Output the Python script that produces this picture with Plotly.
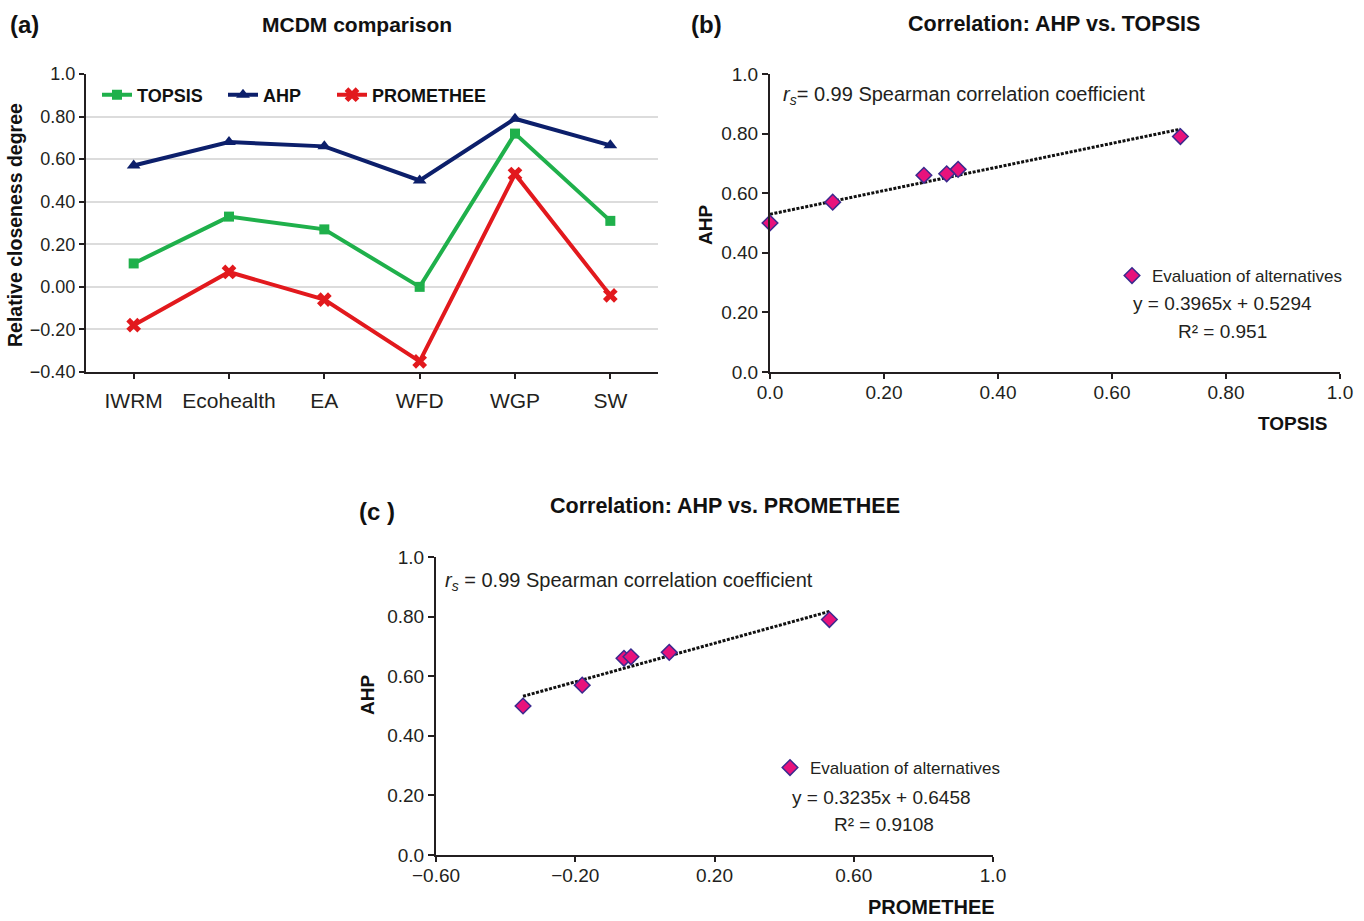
import plotly.graph_objects as go

# ---------------- data ----------------
alternatives = ["IWRM", "Ecohealth", "EA", "WFD", "WGP", "SW"]
topsis = [0.11, 0.33, 0.27, 0.00, 0.72, 0.31]
ahp = [0.57, 0.68, 0.66, 0.50, 0.79, 0.665]
promethee = [-0.18, 0.07, -0.06, -0.35, 0.53, -0.04]

# trend lines (Excel linear fits shown on the chart)
fit_b = {"slope": 0.3965, "intercept": 0.5294}
fit_c = {"slope": 0.3235, "intercept": 0.6458}

a_yticks = [1.0, 0.8, 0.6, 0.4, 0.2, 0.0, -0.2, -0.4]
a_yticktext = ["1.0", "0.80", "0.60", "0.40", "0.20", "0.00", "\u22120.20", "\u22120.40"]
b_ticks = [0.0, 0.2, 0.4, 0.6, 0.8, 1.0]
b_ticktext = ["0.0", "0.20", "0.40", "0.60", "0.80", "1.0"]
c_xticks = [-0.6, -0.2, 0.2, 0.6, 1.0]
c_xticktext = ["\u22120.60", "\u22120.20", "0.20", "0.60", "1.0"]

# ---------------- style ----------------
W, H = 1364, 921
FONT = "Liberation Sans, Arial, sans-serif"
INK = "#231f20"
GREEN = "#1fb04b"
NAVY = "#0c1f6b"
RED = "#e2191d"
PINK = "#e8127c"
PURPLE = "#3b2a8e"
TREND_DASH = "3px,1.5px"


def px(x):
    return x / W


def py(y):
    return 1 - y / H


fig = go.Figure()

# ---- panel (a) ----
fig.add_trace(go.Scatter(x=alternatives, y=topsis, name="TOPSIS", mode="lines+markers",
                         line=dict(color=GREEN, width=4),
                         marker=dict(symbol="square", size=10, color=GREEN),
                         xaxis="x", yaxis="y", legend="legend", cliponaxis=False))
fig.add_trace(go.Scatter(x=alternatives, y=ahp, name="AHP", mode="lines+markers",
                         line=dict(color=NAVY, width=4),
                         marker=dict(symbol="triangle-up", size=12, color=NAVY),
                         xaxis="x", yaxis="y", legend="legend4", cliponaxis=False))
fig.add_trace(go.Scatter(x=alternatives, y=promethee, name="PROMETHEE", mode="lines+markers",
                         line=dict(color=RED, width=4),
                         marker=dict(symbol="x", size=13, color=RED),
                         xaxis="x", yaxis="y", legend="legend5", cliponaxis=False))

# ---- panel (b) ----
xb = [0.0, max(topsis)]
fig.add_trace(go.Scatter(x=xb, y=[fit_b["slope"] * v + fit_b["intercept"] for v in xb],
                         mode="lines", line=dict(color="#111111", width=3, dash=TREND_DASH),
                         showlegend=False, xaxis="x2", yaxis="y2", hoverinfo="skip"))
fig.add_trace(go.Scatter(x=topsis, y=ahp, mode="markers", name="Evaluation of alternatives",
                         marker=dict(symbol="diamond", size=12, color=PINK,
                                     line=dict(color=PURPLE, width=1.5)),
                         xaxis="x2", yaxis="y2", legend="legend2", cliponaxis=False))

# ---- panel (c) ----
xc = [min(promethee), max(promethee)]
fig.add_trace(go.Scatter(x=xc, y=[fit_c["slope"] * v + fit_c["intercept"] for v in xc],
                         mode="lines", line=dict(color="#111111", width=3, dash=TREND_DASH),
                         showlegend=False, xaxis="x3", yaxis="y3", hoverinfo="skip"))
fig.add_trace(go.Scatter(x=promethee, y=ahp, mode="markers", name="Evaluation of alternatives",
                         marker=dict(symbol="diamond", size=12, color=PINK,
                                     line=dict(color=PURPLE, width=1.5)),
                         xaxis="x3", yaxis="y3", legend="legend3", cliponaxis=False))


def axis(**kw):
    d = dict(showline=True, linecolor=INK, linewidth=2, ticks="outside",
             tickcolor=INK, tickwidth=2, zeroline=False, automargin=False,
             showgrid=False, tickfont=dict(family=FONT, size=19, color=INK))
    d.update(kw)
    return d


def legend(x, y, size=17, bold=False):
    return dict(x=px(x), y=py(y), xanchor="left", yanchor="middle",
                font=dict(family=FONT, size=size, color="#111111" if bold else INK,
                          weight="bold" if bold else "normal"),
                bgcolor="rgba(0,0,0,0)", borderwidth=0, itemwidth=30)


fig.update_layout(
    template="none",
    width=W, height=H, autosize=False,
    margin=dict(l=0, r=0, t=0, b=0, pad=0, autoexpand=False),
    paper_bgcolor="white", plot_bgcolor="white",
    font=dict(family=FONT, color=INK),
    xaxis=axis(domain=[px(86), px(658)], anchor="y", type="category",
               range=[-0.5, 5.5], ticklen=5, ticklabelstandoff=4,
               tickfont=dict(family=FONT, size=21, color=INK)),
    yaxis=axis(domain=[py(372), py(74)], anchor="x", range=[-0.4, 1.0],
               tickvals=a_yticks, ticktext=a_yticktext, ticklen=5,
               showgrid=True, gridcolor="#dcdcdc", gridwidth=2,
               tickfont=dict(family=FONT, size=18, color=INK)),
    xaxis2=axis(domain=[px(770), px(1340)], anchor="y2", range=[0, 1],
                tickvals=b_ticks, ticktext=b_ticktext, ticklen=5, ticklabelstandoff=-3),
    yaxis2=axis(domain=[py(372), py(74)], anchor="x2", range=[0, 1],
                tickvals=b_ticks, ticktext=b_ticktext, ticklen=6),
    xaxis3=axis(domain=[px(436), px(993)], anchor="y3", range=[-0.6, 1.0],
                tickvals=c_xticks, ticktext=c_xticktext, ticklen=5, ticklabelstandoff=-3),
    yaxis3=axis(domain=[py(855), py(557)], anchor="x3", range=[0, 1],
                tickvals=b_ticks, ticktext=b_ticktext, ticklen=6),
    legend=legend(97, 95, size=18, bold=True),
    legend4=legend(223, 95, size=18, bold=True),
    legend5=legend(332, 95, size=18, bold=True),
    legend2=legend(1112, 276),
    legend3=legend(770, 768),
    showlegend=True,
)


def ann(text, x, y, size=19, bold=False, xanchor="center", angle=0):
    fig.add_annotation(text=text, x=px(x), y=py(y), xref="paper", yref="paper",
                       showarrow=False, xanchor=xanchor, yanchor="middle",
                       textangle=angle,
                       font=dict(family=FONT, size=size, color="#111111" if bold else INK,
                                 weight="bold" if bold else "normal"))


# panel labels and titles
ann("(a)", 8, 24, size=24, bold=True, xanchor="left")
ann("MCDM comparison", 357, 24, size=21, bold=True)
ann("(b)", 689, 24, size=24, bold=True, xanchor="left")
ann("Correlation: AHP vs. TOPSIS", 1054, 24, size=21.5, bold=True)
ann("(c )", 357, 511, size=24, bold=True, xanchor="left")
ann("Correlation: AHP vs. PROMETHEE", 725, 506, size=21.5, bold=True)

# axis titles
ann("Relative closeness degree", 15, 225, size=19.5, bold=True, angle=-90)
ann("AHP", 705, 225, size=19, bold=True, angle=-90)
ann("TOPSIS", 1292, 423, size=19, bold=True)
ann("AHP", 367, 695, size=19, bold=True, angle=-90)
ann("PROMETHEE", 932, 907, size=20, bold=True)

# statistics text
ann("<i>r<sub>s</sub></i>= 0.99 Spearman correlation coefficient", 781, 95, size=20, xanchor="left")
ann("y = 0.3965x + 0.5294", 1222, 304, size=19)
ann("R\u00b2 = 0.951", 1222, 332, size=19)
ann("<i>r<sub>s</sub></i> = 0.99 Spearman correlation coefficient", 443, 581, size=20, xanchor="left")
ann("y = 0.3235x + 0.6458", 881, 797, size=19)
ann("R\u00b2 = 0.9108", 884, 824, size=19)

fig.write_html("out.html", config={"displayModeBar": False},
               post_script="document.body.style.margin='0';")
